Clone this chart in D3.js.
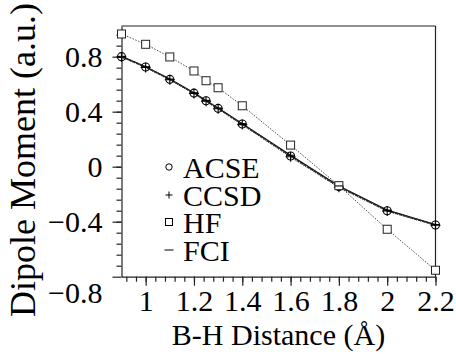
<!DOCTYPE html>
<html>
<head>
<meta charset="utf-8">
<title>Dipole moment</title>
<script src="https://d3js.org/d3.v7.min.js"></script>
<style>
body { margin: 0; background: #fff; }
.axis path, .axis line { stroke: #222; stroke-width: 1.2; }
</style>
</head>
<body>
<script>
// bond distances (angstrom)
const dist = [0.9, 1.0, 1.1, 1.2, 1.25, 1.3, 1.4, 1.6, 1.8, 2.0, 2.2]
// dipole moments (a.u.)
const acse = [0.800, 0.725, 0.635, 0.535, 0.479, 0.424, 0.310, 0.078, -0.145, -0.320, -0.424]
const ccsd = [0.798, 0.722, 0.632, 0.532, 0.476, 0.421, 0.306, 0.072, -0.150, -0.322, -0.426]
const hf   = [0.965, 0.890, 0.798, 0.696, 0.625, 0.574, 0.443, 0.157, -0.138, -0.455, -0.753]
const fci  = [0.802, 0.727, 0.637, 0.538, 0.482, 0.427, 0.313, 0.083, -0.140, -0.316, -0.421]
const xTicks = [1, 1.2, 1.4, 1.6, 1.8, 2, 2.2]
const yTicks = [-0.8, -0.4, 0, 0.4, 0.8]
const legendNames = ["ACSE", "CCSD", "HF", "FCI"]

const FONT = "'Liberation Serif'"
const W = 456, H = 354
const x = d3.scaleLinear().domain([0.9, 2.2]).range([121.5, 435.5])
const y = d3.scaleLinear().domain([-0.8, 1.023]).range([276.7, 26])

function serif(sel, size) {
  sel.style("font-family", FONT).style("font-size", size + "px").attr("fill", "#000")
}

const svg = d3.select("body").append("svg")
    .attr("width", W).attr("height", H)

// minor ticks
const xMinor = d3.range(0.92, 2.2, 0.04)
const yMinor = d3.range(-0.72, 1.0, 0.08)
svg.append("g").attr("class", "axis")
    .attr("transform", "translate(0," + y.range()[0] + ")")
    .call(d3.axisBottom(x).tickValues(xMinor).tickSize(5).tickFormat(""))
    .call(g => g.select(".domain").remove())
svg.append("g").attr("class", "axis")
    .attr("transform", "translate(" + x.range()[0] + ",0)")
    .call(d3.axisLeft(y).tickValues(yMinor).tickSize(5).tickFormat(""))
    .call(g => g.select(".domain").remove())

// major axes
const xAxis = svg.append("g").attr("class", "axis")
    .attr("transform", "translate(0," + y.range()[0] + ")")
    .call(d3.axisBottom(x).tickValues(xTicks).tickSize(9).tickPadding(4).tickSizeOuter(0)
      .tickFormat(d3.format("~g")))
xAxis.selectAll("text").call(serif, 30)

const yAxis = svg.append("g").attr("class", "axis")
    .attr("transform", "translate(" + x.range()[0] + ",0)")
    .call(d3.axisLeft(y).tickValues(yTicks).tickSize(9).tickPadding(10).tickSizeOuter(0)
      .tickFormat(d => d === 0 ? "0" : d3.format(".1f")(d)))
yAxis.selectAll("text").call(serif, 30)
yAxis.selectAll(".tick").filter(d => d === -0.8).select("text").attr("dy", "0.85em")

// frame top and right
svg.append("line").attr("x1", x.range()[0]).attr("x2", x.range()[1])
    .attr("y1", y.range()[1]).attr("y2", y.range()[1]).attr("stroke", "#222").attr("stroke-width", 1.2)
svg.append("line").attr("x1", x.range()[1]).attr("x2", x.range()[1])
    .attr("y1", y.range()[1]).attr("y2", y.range()[0]).attr("stroke", "#222").attr("stroke-width", 1.2)

// axis titles
svg.append("text").attr("x", (x.range()[0] + x.range()[1]) / 2).attr("y", 345)
    .attr("text-anchor", "middle").call(serif, 30)
    .text("B-H Distance (Å)")
svg.append("text").attr("transform", "translate(35,160) rotate(-90)")
    .attr("text-anchor", "middle").call(serif, 36)
    .text("Dipole Moment (a.u.)")

// lines
function pts(vals) { return dist.map((d, i) => [d, vals[i]]) }
const line = d3.line().x(d => x(d[0])).y(d => y(d[1]))
svg.append("path").attr("d", line(pts(hf))).attr("fill", "none")
    .attr("stroke", "#333").attr("stroke-width", 0.9).attr("stroke-dasharray", "1.5,1.5")
svg.append("path").attr("d", line(pts(fci))).attr("fill", "none")
    .attr("stroke", "#111").attr("stroke-width", 1.2)
svg.append("path").attr("d", line(pts(acse))).attr("fill", "none")
    .attr("stroke", "#222").attr("stroke-width", 1.5).attr("stroke-dasharray", "3,1")
svg.append("path").attr("d", line(pts(ccsd))).attr("fill", "none")
    .attr("stroke", "#333").attr("stroke-width", 1.3).attr("stroke-dasharray", "1,1")

// markers
svg.append("g").selectAll("circle").data(pts(acse)).join("circle")
    .attr("cx", d => x(d[0])).attr("cy", d => y(d[1])).attr("r", 4)
    .attr("fill", "none").attr("stroke", "#000").attr("stroke-width", 1.1)
svg.append("g").selectAll("path").data(pts(ccsd)).join("path")
    .attr("transform", d => "translate(" + x(d[0]) + "," + y(d[1]) + ")")
    .attr("d", "M-5,0H5M0,-5V5").attr("stroke", "#000").attr("stroke-width", 1.1)
svg.append("g").selectAll("rect").data(pts(hf)).join("rect")
    .attr("x", d => x(d[0]) - 4).attr("y", d => y(d[1]) - 4).attr("width", 8).attr("height", 8)
    .attr("fill", "#fff").attr("stroke", "#222").attr("stroke-width", 1)
svg.append("g").selectAll("path").data(pts(fci)).join("path")
    .attr("transform", d => "translate(" + x(d[0]) + "," + y(d[1]) + ")")
    .attr("d", "M-4,0H4").attr("stroke", "#000").attr("stroke-width", 1.1)

// legend
const lg = svg.append("g")
const rowY = [167, 195, 222, 250]
legendNames.forEach((name, i) => {
  const cy = rowY[i], cx = 169
  if (i === 0) lg.append("circle").attr("cx", cx).attr("cy", cy).attr("r", 3.2)
      .attr("fill", "none").attr("stroke", "#000")
  if (i === 1) lg.append("path").attr("d", `M${cx-3.5},${cy}H${cx+3.5}M${cx},${cy-3.5}V${cy+3.5}`)
      .attr("stroke", "#000")
  if (i === 2) lg.append("rect").attr("x", cx - 3.5).attr("y", cy - 3.5).attr("width", 7).attr("height", 7)
      .attr("fill", "none").attr("stroke", "#000")
  if (i === 3) lg.append("path").attr("d", `M${cx-4.5},${cy}H${cx+4.5}`).attr("stroke", "#000")
  lg.append("text").attr("x", 183).attr("y", cy + 10.5).call(serif, 30).text(name)
})
</script>
</body>
</html>
